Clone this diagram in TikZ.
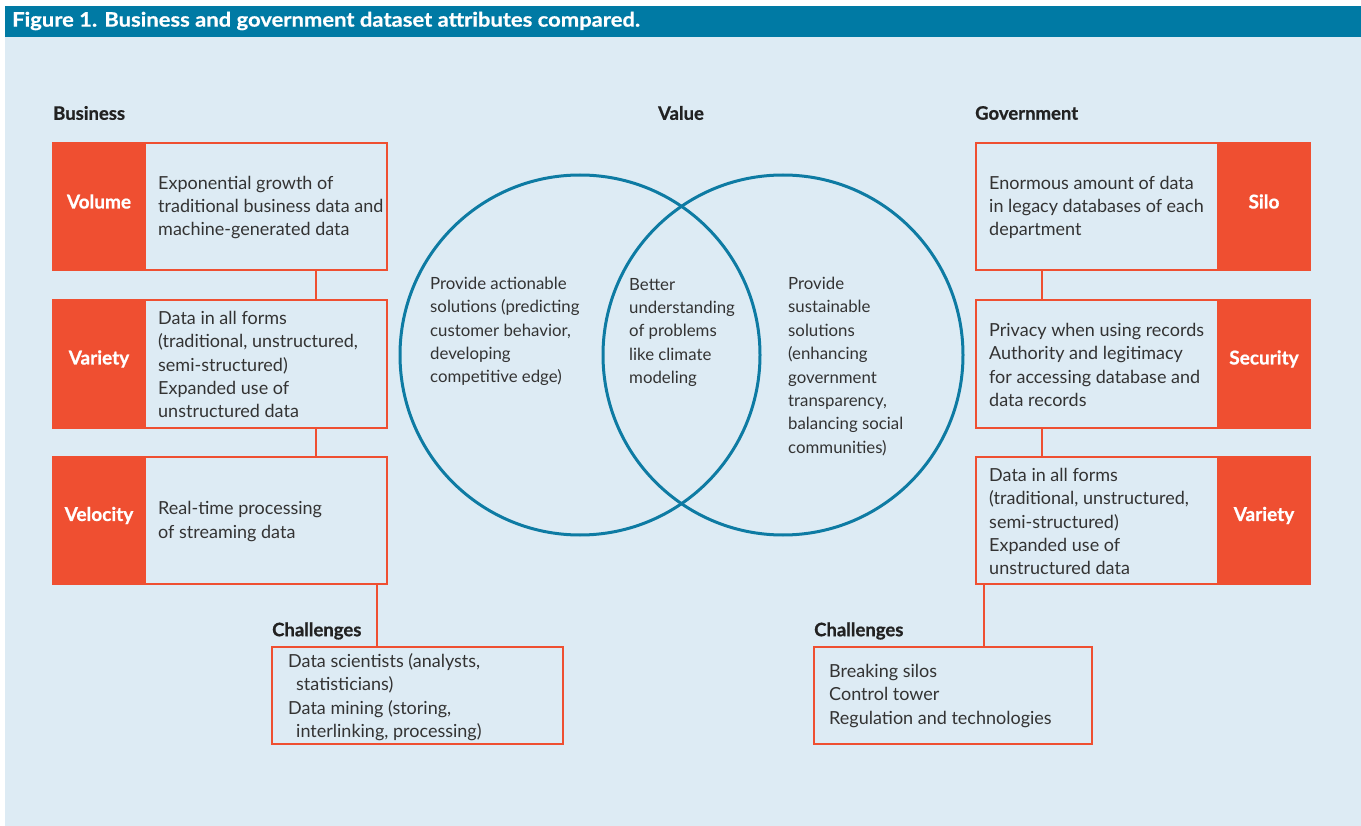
\documentclass[tikz,border=0pt]{standalone}
\usepackage{fontspec}
\setmainfont{Lato}
\newfontfamily\titlefont[FakeStretch=1.1,FakeBold=0.6]{Lato}
\newfontfamily\heavyfont[FakeBold=0.8]{Lato}
\definecolor{bgc}{HTML}{DDEBF4}
\definecolor{barc}{HTML}{007AA4}
\definecolor{redc}{HTML}{EF4F31}
\definecolor{ringc}{HTML}{0E7BA3}
\definecolor{txtc}{HTML}{333333}
\definecolor{hdrc}{HTML}{222222}
\begin{document}
\begin{tikzpicture}[x=1pt,y=-1pt,
  txt/.style={font=\fontsize{18}{23.4}\selectfont, text=txtc, align=left, inner sep=0pt, anchor=west},
  ctxt/.style={font=\fontsize{16.8}{23.4}\selectfont, text=txtc, align=left, inner sep=0pt, anchor=west},
  lbl/.style={font=\heavyfont\fontsize{19}{20}\selectfont\bfseries, text=white, inner sep=0pt},
  hdr/.style={font=\heavyfont\fontsize{18.5}{20}\selectfont\bfseries, text=hdrc, inner sep=0pt, anchor=west},
  attrbox/.style={draw=redc, line width=2pt, fill=bgc, minimum width=334pt, minimum height=127pt, inner sep=0pt},
  tagbox/.style={fill=redc, draw=redc, line width=2pt, minimum width=92pt, minimum height=127pt, inner sep=0pt},
  chalbox/.style={draw=redc, line width=2pt, minimum height=97pt, inner sep=0pt},
  link/.style={draw=redc, line width=2pt},
  ring/.style={draw=ringc, line width=3pt, circle, minimum size=360pt, inner sep=0pt}
]
\useasboundingbox (0,0) rectangle (1361,826);
\fill[white] (0,0) rectangle (1361,826);
\fill[bgc] (5,37) rectangle (1361,826);
\fill[barc] (5,6) rectangle (1361,37);
\node[anchor=west, text=white, inner sep=0pt, font=\titlefont\fontsize{20}{20}\selectfont\bfseries] (title) at (12,21) {Figure 1. Business and government dataset attributes compared.};

% headers
\node[hdr] (hbus) at (53,113) {Business};
\node[hdr, anchor=center] (hval) at (681,113) {Value};
\node[hdr] (hgov) at (975,113) {Government};

% venn
\node[ring] (L) at (580,355) {};
\node[ring] (R) at (783,355) {};
\node[ctxt] (lt) at (430,331.5) {Provide actionable\\solutions (predicting\\customer behavior,\\developing\\competitive edge)};
\node[ctxt] (ct) at (629,332.5) {Better\\understanding\\of problems\\like climate\\modeling};
\node[ctxt] (rt) at (788,366.5) {Provide\\sustainable\\solutions\\(enhancing\\government\\transparency,\\balancing social\\communities)};

% business boxes
\node[attrbox] (bvol) at (220,206.5) {};
\node[attrbox] (bvar) at (220,364) {};
\node[attrbox] (bvel) at (220,520.5) {};
\node[tagbox] (bvolt) at (99,206.5) {};
\node[tagbox] (bvart) at (99,364) {};
\node[tagbox] (bvelt) at (99,520.5) {};
\node[lbl] at ([yshift=5pt]bvolt.center) {Volume};
\node[lbl] at ([yshift=5pt]bvart.center) {Variety};
\node[lbl] at ([yshift=5pt]bvelt.center) {Velocity};
\node[txt] at (158,207.5) {Exponential growth of\\traditional business data and\\machine-generated data};
\node[txt] at (158,364.5) {Data in all forms\\(traditional, unstructured,\\semi-structured)\\Expanded use of\\unstructured data};
\node[txt] at (158,521.5) {Real-time processing\\of streaming data};

% government boxes
\node[attrbox] (gsil) at (1143,206.5) {};
\node[attrbox] (gsec) at (1143,364) {};
\node[attrbox] (gvar) at (1143,520.5) {};
\node[tagbox] (gsilt) at (1264,206.5) {};
\node[tagbox] (gsect) at (1264,364) {};
\node[tagbox] (gvart) at (1264,520.5) {};
\node[lbl] at ([yshift=5pt]gsilt.center) {Silo};
\node[lbl] at ([yshift=5pt]gsect.center) {Security};
\node[lbl] at ([yshift=5pt]gvart.center) {Variety};
\node[txt] at (989,207.5) {Enormous amount of data\\in legacy databases of each\\department};
\node[txt] at (989,365) {Privacy when using records\\Authority and legitimacy\\for accessing database and\\data records};
\node[txt] at (989,521.5) {Data in all forms\\(traditional, unstructured,\\semi-structured)\\Expanded use of\\unstructured data};

% challenges
\node[hdr] (hcl) at (272,631) {Challenges};
\node[hdr] (hcr) at (814,631) {Challenges};
\node[chalbox, minimum width=291pt] (cl) at (417.5,695.5) {};
\node[chalbox, minimum width=278pt] (cr) at (953,695.5) {};
\node[txt] at (288,697) {Data scientists (analysts,\\\hspace*{8pt}statisticians)\\Data mining (storing,\\\hspace*{8pt}interlinking, processing)};
\node[txt] at (829,696) {Breaking silos\\Control tower\\Regulation and technologies};

% connectors
\draw[link] ([xshift=96pt]bvol.south) -- ([xshift=96pt]bvar.north);
\draw[link] ([xshift=96pt]bvar.south) -- ([xshift=96pt]bvel.north);
\draw[link] ([xshift=157pt]bvel.south) -- ([xshift=157pt]bvel.south |- cl.north);
\draw[link] ([xshift=-101pt]gsil.south) -- ([xshift=-101pt]gsec.north);
\draw[link] ([xshift=-101pt]gsec.south) -- ([xshift=-101pt]gvar.north);
\draw[link] ([xshift=-159pt]gvar.south) -- ([xshift=-159pt]gvar.south |- cr.north);
\end{tikzpicture}
\end{document}
